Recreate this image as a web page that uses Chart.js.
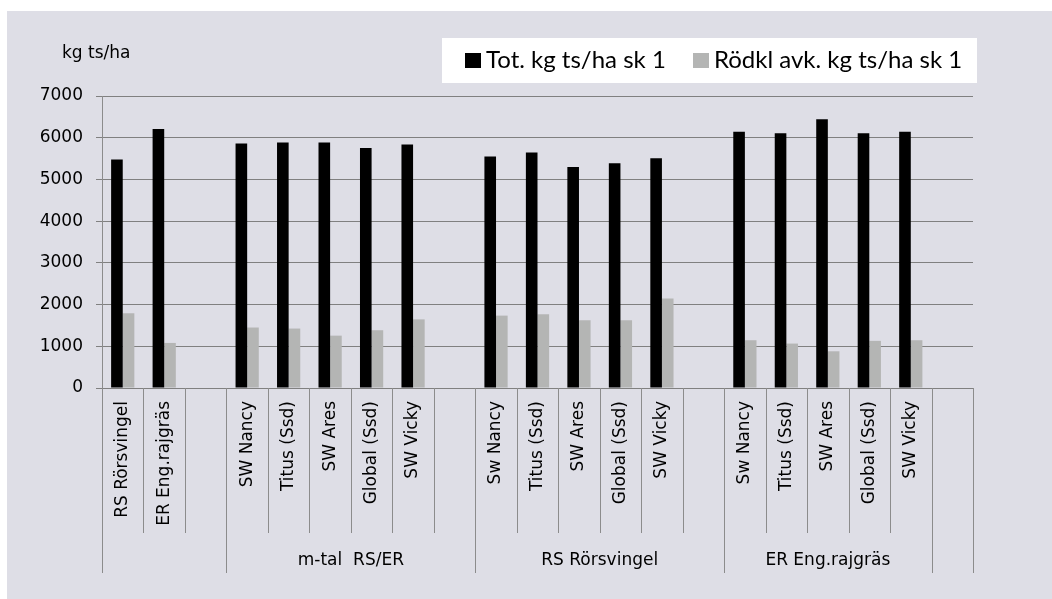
<!DOCTYPE html>
<html>
<head>
<meta charset="utf-8">
<script src="https://cdn.jsdelivr.net/npm/chart.js@4.4.0/dist/chart.umd.min.js"></script>
<style>
html,body{margin:0;padding:0;background:#ffffff;}
#wrap{width:1052px;height:599px;position:relative;}
</style>
</head>
<body>
<div id="wrap"><canvas id="c" width="1052" height="599"></canvas></div>
<script>
// ---- data ----
const categories = ["RS Rörsvingel","ER Eng.rajgräs","",
  "SW Nancy","Titus (Ssd)","SW Ares","Global (Ssd)","SW Vicky","",
  "Sw Nancy","Titus (Ssd)","SW Ares","Global (Ssd)","SW Vicky","",
  "Sw Nancy","Titus (Ssd)","SW Ares","Global (Ssd)","SW Vicky",""];
const groupLabels = ["", "m-tal  RS/ER", "RS Rörsvingel", "ER Eng.rajgräs", ""];
const groupSpans = [3, 6, 6, 5, 1];
const seriesNames = ["Tot. kg ts/ha sk 1", "Rödkl avk. kg ts/ha sk 1"];
const totValues = [5480, 6210, null, 5860, 5885, 5885, 5755, 5840, null,
  5550, 5645, 5295, 5390, 5510, null, 6145, 6105, 6440, 6105, 6145, null];
const rodklValues = [1790, 1080, null, 1450, 1425, 1255, 1385, 1645, null,
  1735, 1770, 1625, 1625, 2145, null, 1145, 1065, 880, 1130, 1145, null];
const yTickValues = [0, 1000, 2000, 3000, 4000, 5000, 6000, 7000];
const yTitle = "kg ts/ha";

// ---- style ----
const BG = "#dedee6";
const GRID = "#808080";
const SEP = "#8c8c8c";
const AXIS_FONT = "DejaVu Sans";
const LEGEND_FONT = "Lato";
const seriesColors = ["#000000", "#b4b5b4"];

const decor = {
  id: "decor",
  beforeDraw(chart) {
    const ctx = chart.ctx;
    ctx.save();
    ctx.fillStyle = "#ffffff";
    ctx.fillRect(0, 0, chart.width, chart.height);
    ctx.fillStyle = BG;
    ctx.fillRect(7, 11, chart.width - 7, chart.height - 11);
    ctx.restore();
  },
  afterDraw(chart) {
    const ctx = chart.ctx;
    const x = chart.scales.x;
    const area = chart.chartArea;
    ctx.save();
    // y title
    ctx.fillStyle = "#000";
    ctx.font = "17px '" + AXIS_FONT + "'";
    ctx.textAlign = "left";
    ctx.textBaseline = "alphabetic";
    ctx.fillText(yTitle, 62, 58);

    // category separators & group labels
    let idx = 0;
    const groupStarts = [];
    groupSpans.forEach(s => { groupStarts.push(idx); idx += s; });
    groupStarts.push(idx);
    const longB = new Set(groupStarts);
    ctx.strokeStyle = SEP;
    ctx.lineWidth = 1;
    for (let i = 0; i <= categories.length; i++) {
      const px = Math.round(x.getPixelForValue(i - 0.5)) + 0.5;
      const yEnd = longB.has(i) ? 573 : 533;
      ctx.beginPath();
      ctx.moveTo(px, area.bottom);
      ctx.lineTo(px, yEnd);
      ctx.stroke();
    }
    ctx.fillStyle = "#000";
    ctx.font = "17px '" + AXIS_FONT + "'";
    ctx.textAlign = "center";
    ctx.textBaseline = "middle";
    for (let g = 0; g < groupSpans.length; g++) {
      if (!groupLabels[g]) continue;
      const a = x.getPixelForValue(groupStarts[g] - 0.5);
      const b = x.getPixelForValue(groupStarts[g + 1] - 0.5);
      ctx.fillText(groupLabels[g], (a + b) / 2, 561);
    }

    // legend
    ctx.fillStyle = "#ffffff";
    ctx.fillRect(442, 38, 535, 45);
    ctx.font = "24px '" + LEGEND_FONT + "'";
    ctx.textAlign = "left";
    ctx.textBaseline = "alphabetic";
    const starts = [465, 693];
    chart.data.datasets.forEach((ds, i) => {
      ctx.fillStyle = ds.backgroundColor;
      ctx.fillRect(starts[i], 53, 16, 15);
      ctx.fillStyle = "#000";
      ctx.fillText(ds.label, starts[i] + 21, 68);
    });
    ctx.restore();
  }
};

new Chart(document.getElementById("c"), {
  type: "bar",
  data: {
    labels: categories,
    datasets: [
      { label: seriesNames[0], data: totValues, backgroundColor: seriesColors[0], borderWidth: 0 },
      { label: seriesNames[1], data: rodklValues, backgroundColor: seriesColors[1], borderWidth: 0 }
    ]
  },
  options: {
    responsive: false,
    animation: false,
    devicePixelRatio: 1,
    layout: { padding: { top: 96, right: 79, bottom: 0, left: 0 } },
    datasets: { bar: { barPercentage: 1.0, categoryPercentage: 0.56 } },
    plugins: { legend: { display: false }, tooltip: { enabled: false }, title: { display: false } },
    scales: {
      x: {
        grid: { display: false, drawTicks: false },
        border: { display: true, color: GRID, width: 1 },
        ticks: {
          autoSkip: false, minRotation: 90, maxRotation: 90, padding: 13,
          color: "#000", font: { family: AXIS_FONT, size: 17 }
        },
        afterFit(s) { s.height = 211; }
      },
      y: {
        min: 0, max: 7000,
        afterBuildTicks(s) { s.ticks = yTickValues.map(v => ({ value: v })); },
        grid: { color: GRID, lineWidth: 1, drawTicks: true, tickLength: 6, tickColor: GRID },
        border: { display: true, color: SEP, width: 1 },
        ticks: {
          padding: 13, color: "#000", font: { family: AXIS_FONT, size: 17 },
          callback: v => String(v)
        },
        afterFit(s) { s.width = 102; }
      }
    }
  },
  plugins: [decor]
});
</script>
</body>
</html>
